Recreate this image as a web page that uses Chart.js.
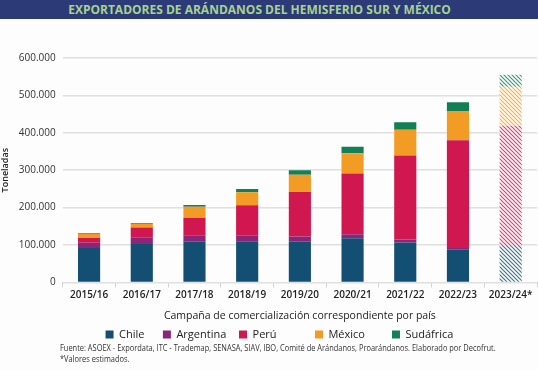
<!DOCTYPE html>
<html lang="es">
<head>
    <meta charset="UTF-8">
    <title>Exportadores de arándanos</title>
    <style>
        body {
            margin: 0;
            padding: 0;
            width: 538px;
            height: 370px;
            background: #fdfdfe;
            font-family: "Open Sans", Arial, sans-serif;
            overflow: hidden;
            position: relative;
        }

        .banner {
            height: 19px;
            line-height: 19px;
            background: #2d3a78;
            color: #a6d38f;
            font-weight: bold;
            font-size: 12px;
            text-align: center;
            padding-right: 19px;
        }

        .chart-box {
            position: absolute;
            left: 0;
            top: 19px;
            width: 538px;
            height: 331px;
        }

        .source {
            position: absolute;
            left: 60px;
            top: 342px;
            font-size: 8.5px;
            line-height: 11px;
            color: #333;
            white-space: nowrap;
            transform-origin: left top;
        }
    </style>
</head>
<body>
    <div class="banner">EXPORTADORES DE ARÁNDANOS DEL HEMISFERIO SUR Y MÉXICO</div>
    <div class="chart-box">
        <canvas id="myChart"></canvas>
    </div>
    <div class="source" id="source">Fuente: ASOEX - Expordata, ITC - Trademap, SENASA, SIAV, IBO, Comité de Arándanos, Proarándanos. Elaborado por Decofrut.<br>*Valores estimados.</div>

    <script src="https://cdn.jsdelivr.net/npm/chart.js"></script>
    <script>
        // campaigns (the last one is an estimate, drawn hatched)
        const seasons = ['2015/16', '2016/17', '2017/18', '2018/19', '2019/20', '2020/21', '2021/22', '2022/23', '2023/24*'];

        // tonnes
        const chile     = [92000, 103000, 109000, 110000, 109000, 118000, 107000, 87000, 100000];
        const argentina = [14000, 18000, 17000, 15000, 14000, 11000, 8000, 5000, 0];
        const peru      = [13000, 26000, 47000, 81000, 119000, 162000, 224000, 288000, 319000];
        const mexico    = [11000, 9000, 29000, 35000, 46000, 54000, 69000, 77000, 104000];
        const sudafrica = [2000, 2000, 5000, 9000, 12000, 18000, 20000, 25000, 32000];

        const yTicks = [0, 100000, 200000, 300000, 400000, 500000, 600000];
        const estimatedIndex = 8;

        const colors = {
            chile: '#124f72',
            argentina: '#8a2577',
            peru: '#d0174f',
            mexico: '#f39c25',
            sudafrica: '#137f55'
        };

        // extra gap after each legend entry (the legend is spread unevenly)
        const legendGap = [4, 2, 11, 7, 0];

        // diagonal hatch for the estimated season
        function hatch(color) {
            const c = document.createElement('canvas');
            c.width = 4;
            c.height = 4;
            const g = c.getContext('2d');
            g.fillStyle = '#ffffff';
            g.fillRect(0, 0, 4, 4);
            g.strokeStyle = color;
            g.globalAlpha = 0.8;
            g.lineWidth = 1.2;
            g.beginPath();
            g.moveTo(-1, -1);
            g.lineTo(5, 5);
            g.moveTo(-1, 3);
            g.lineTo(1, 5);
            g.moveTo(3, -1);
            g.lineTo(5, 1);
            g.stroke();
            return g.createPattern(c, 'repeat');
        }

        function series(label, values, color) {
            const pattern = hatch(color);
            return {
                label: label,
                data: values,
                backgroundColor: ctx => ctx.dataIndex === estimatedIndex ? pattern : color,
                borderWidth: 0,
                barPercentage: 0.42,
                categoryPercentage: 1
            };
        }

        const fmt = v => String(v).replace(/\B(?=(\d{3})+(?!\d))/g, '.');

        // the legend sits a little right of centre in the original
        const legendShift = {
            id: 'legendShift',
            afterLayout(c) {
                c.legend.left += 11;
                c.legend.right += 11;
            }
        };

        const dt = document.getElementById('myChart').getContext('2d');
        const chart = new Chart(dt, {
            type: 'bar',
            data: {
                labels: seasons,
                datasets: [
                    series('Chile', chile, colors.chile),
                    series('Argentina', argentina, colors.argentina),
                    series('Perú', peru, colors.peru),
                    series('México', mexico, colors.mexico),
                    series('Sudáfrica', sudafrica, colors.sudafrica)
                ]
            },
            plugins: [legendShift],
            options: {
                responsive: true,
                maintainAspectRatio: false,
                animation: false,
                layout: {
                    padding: { top: 39, right: 1, left: 0, bottom: 0 }
                },
                plugins: {
                    legend: {
                        position: 'bottom',
                        labels: {
                            boxWidth: 8,
                            boxHeight: 8,
                            padding: 7,
                            color: '#222',
                            font: { family: 'Open Sans', size: 11 },
                            generateLabels: c => {
                                const items = Chart.defaults.plugins.legend.labels.generateLabels(c);
                                items.forEach((it, i) => {
                                    it.text = it.text + '\u00a0'.repeat(legendGap[i]);
                                });
                                return items;
                            }
                        }
                    },
                    tooltip: { enabled: false }
                },
                scales: {
                    x: {
                        stacked: true,
                        grid: {
                            offset: true,
                            drawOnChartArea: false,
                            tickLength: 5,
                            color: '#d4d4d4'
                        },
                        border: { display: false },
                        ticks: {
                            color: '#222',
                            padding: 2,
                            font: { family: 'Open Sans', size: 10, weight: '600' }
                        },
                        title: {
                            display: true,
                            text: 'Campaña de comercialización correspondiente por país',
                            color: '#222',
                            padding: { top: 6, bottom: 0 },
                            font: { family: 'Open Sans', size: 10.5 }
                        }
                    },
                    y: {
                        stacked: true,
                        min: 0,
                        max: 600000,
                        afterBuildTicks: axis => {
                            axis.ticks = yTicks.map(v => ({ value: v }));
                        },
                        grid: {
                            color: '#e0e0e0',
                            lineWidth: 1.5,
                            drawTicks: false
                        },
                        border: { display: false },
                        ticks: {
                            color: '#333',
                            padding: 7,
                            font: { family: 'Open Sans', size: 10 },
                            callback: v => fmt(v)
                        },
                        title: {
                            display: true,
                            text: 'Toneladas',
                            color: '#222',
                            padding: { top: 0, bottom: 1 },
                            font: { family: 'Open Sans', size: 9, weight: '600' }
                        }
                    }
                }
            }
        });

        // squeeze the source note to the width it has in the original
        const src = document.getElementById('source');
        src.style.transform = 'scaleX(' + (436 / src.scrollWidth) + ')';
    </script>
</body>
</html>
